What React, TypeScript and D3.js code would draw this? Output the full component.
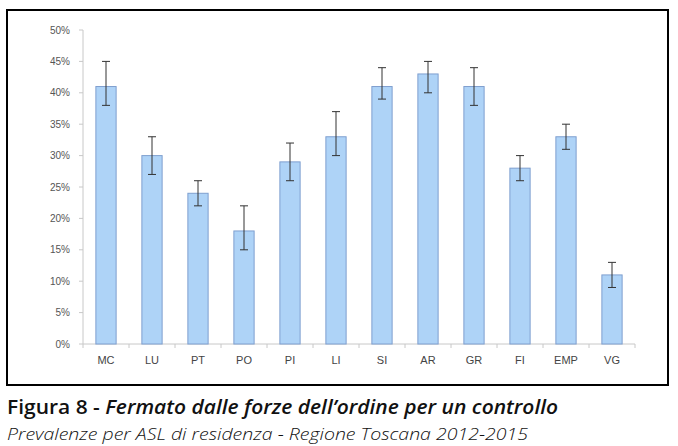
import React from "react";
import * as d3 from "d3";

const categories = ["MC", "LU", "PT", "PO", "PI", "LI", "SI", "AR", "GR", "FI", "EMP", "VG"];
const values = [41, 30, 24, 18, 29, 33, 41, 43, 41, 28, 33, 11];
const lower = [38, 27, 22, 15, 26, 30, 39, 40, 38, 26, 31, 9];
const upper = [45, 33, 26, 22, 32, 37, 44, 45, 44, 30, 35, 13];
const yTicks = [0, 5, 10, 15, 20, 25, 30, 35, 40, 45, 50];
const title = "Figura 8 - ";
const titleItalic = "Fermato dalle forze dell\u2019ordine per un controllo";
const subtitle = "Prevalenze per ASL di residenza - Regione Toscana 2012-2015";

export default function App() {
  const W = 678, H = 446;
  const x0 = 83, x1 = 635, yTop = 30, yBot = 344;
  const x = d3.scaleBand().domain(categories).range([x0, x1]).paddingInner(0.56).paddingOuter(0.28);
  const y = d3.scaleLinear().domain([0, 50]).range([yBot, yTop]);
  const bw = x.bandwidth();
  const step = (x1 - x0) / categories.length;
  const font = "'Liberation Sans', Arial, sans-serif";
  return (
    <svg width={W} height={H} style={{ position: "absolute", left: 0, top: 0, background: "#fff" }}>
      <rect x={7} y={10} width={661} height={375} fill="#fff" stroke="#000" strokeWidth={2} />
      {/* y axis */}
      <line x1={x0} x2={x0} y1={yTop} y2={yBot} stroke="#c8c8c8" strokeWidth={1} />
      {yTicks.map((t) => (
        <g key={t}>
          <line x1={x0 - 4} x2={x0} y1={y(t)} y2={y(t)} stroke="#c8c8c8" />
          <text x={x0 - 13} y={y(t)} dy="0.35em" textAnchor="end" fontSize={10} fill="#555" fontFamily={font}>
            {t}%
          </text>
        </g>
      ))}
      {/* x axis */}
      <line x1={x0} x2={x1} y1={yBot} y2={yBot} stroke="#c8c8c8" />
      {d3.range(categories.length + 1).map((i) => (
        <line key={i} x1={x0 + i * step} x2={x0 + i * step} y1={yBot} y2={yBot + 4} stroke="#c8c8c8" />
      ))}
      {categories.map((c, i) => {
        const bx = x(c)!;
        const cx = bx + bw / 2;
        return (
          <g key={c}>
            <rect x={bx} y={y(values[i])} width={bw} height={yBot - y(values[i])} fill="#aed3f7" stroke="#7f9fcf" strokeWidth={1} />
            <line x1={cx} x2={cx} y1={y(upper[i])} y2={y(lower[i])} stroke="#333" strokeWidth={1} />
            <line x1={cx - 4} x2={cx + 4} y1={y(upper[i])} y2={y(upper[i])} stroke="#333" strokeWidth={1} />
            <line x1={cx - 4} x2={cx + 4} y1={y(lower[i])} y2={y(lower[i])} stroke="#333" strokeWidth={1} />
            <text x={cx} y={yBot + 20} textAnchor="middle" fontSize={11} fill="#444" fontFamily={font}>
              {c}
            </text>
          </g>
        );
      })}
      <text x={7} y={414} fontSize={19} fontFamily="'Open Sans', sans-serif" fill="#111" textLength={551} lengthAdjust="spacingAndGlyphs">
        <tspan fontWeight="600">{title}</tspan>
        <tspan fontWeight="600" fontStyle="italic">{titleItalic}</tspan>
      </text>
      <text x={7} y={440} fontSize={17} fontFamily="'Open Sans', sans-serif" fontStyle="italic" fontWeight="300" fill="#111" textLength={521} lengthAdjust="spacingAndGlyphs">
        {subtitle}
      </text>
    </svg>
  );
}
